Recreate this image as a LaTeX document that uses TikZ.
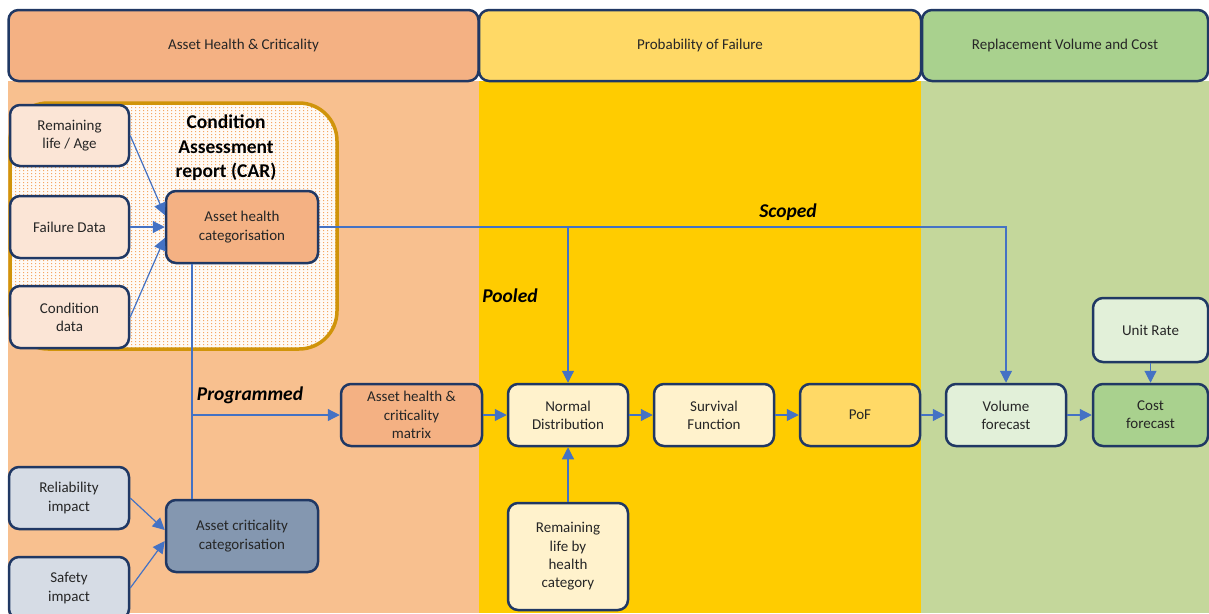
\documentclass[tikz,border=0pt]{standalone}
\usepackage{fontspec}
\setmainfont{Carlito}
\usetikzlibrary{arrows.meta}
\definecolor{bgA}{HTML}{F8C08F}
\definecolor{bgB}{HTML}{FFCC00}
\definecolor{bgC}{HTML}{C4D79B}
\definecolor{hA}{HTML}{F4B183}
\definecolor{hB}{HTML}{FFD966}
\definecolor{hC}{HTML}{A9D18E}
\definecolor{peachL}{HTML}{FBE5D6}
\definecolor{yelL}{HTML}{FFF2CC}
\definecolor{grnL}{HTML}{E2F0D9}
\definecolor{blueL}{HTML}{D6DCE5}
\definecolor{blueD}{HTML}{8497B0}
\definecolor{navy}{HTML}{203864}
\definecolor{lineblue}{HTML}{4472C4}
\definecolor{gold}{HTML}{D0940A}
\definecolor{dotc}{HTML}{F5A864}
\definecolor{carbg}{HTML}{FFFAF5}
\begin{document}
\begin{tikzpicture}[x=1pt,y=-1pt,
  box/.style={draw=navy, line width=2.5pt, rounded corners=10pt, align=center,
    inner sep=2pt, font=\fontsize{15}{18.3}\selectfont, text=black!85},
  hdr/.style={box, minimum height=71pt},
  conn/.style={draw=lineblue, line width=1.2pt, -{Triangle[length=12pt,width=12pt]}},
  plain/.style={draw=lineblue, line width=1.2pt},
  lbl/.style={font=\fontsize{19.5}{22}\selectfont\bfseries\itshape, text=black}]
\useasboundingbox (0,0) rectangle (1209,613);
\fill[white] (0,0) rectangle (1209,613);
% column backgrounds
\fill[bgA] (8,81) rectangle (479,613);
\fill[bgB] (479,81) rectangle (921,613);
\fill[bgC] (921,81) rectangle (1209,613);
% headers
\node[hdr, fill=hA, minimum width=470pt] (h1) at (243.5,45.5) {Asset Health \& Criticality};
\node[hdr, fill=hB, minimum width=442pt] (h2) at (700,45.5) {Probability of Failure};
\node[hdr, fill=hC, minimum width=286pt] (h3) at (1065,45.5) {Replacement Volume and Cost};
% CAR container with dotted fill
\fill[carbg, rounded corners=38pt] (10,103) rectangle (337,349);
\begin{scope}
  \clip[rounded corners=38pt] (10,103) rectangle (337,349);
  \fill[dotc] \foreach \i in {0,...,81} { \foreach \j in {0,...,82} {
      (11+4*\i,104+3*\j) rectangle ++(1,1) } };
\end{scope}
\draw[gold, line width=3.5pt, rounded corners=38pt] (10,103) rectangle (337,349);
\node[font=\fontsize{19.5}{24.5}\selectfont\bfseries, align=center, text=black] (car) at (226,148)
  {Condition\\Assessment\\report (CAR)};
% nodes
\node[box, fill=peachL, minimum width=119pt, minimum height=61pt] (rl) at (69.5,135.5) {Remaining\\life / Age};
\node[box, fill=peachL, minimum width=119pt, minimum height=62pt] (fd) at (69.5,227) {Failure Data};
\node[box, fill=peachL, minimum width=119pt, minimum height=62pt] (cd) at (69.5,317) {Condition\\data};
\node[box, fill=hA, minimum width=152pt, minimum height=72pt] (ahc) at (242,227) {Asset health\\categorisation};
\node[box, fill=hA, minimum width=141pt, minimum height=62pt] (mat) at (411.5,415) {Asset health \&\\criticality\\matrix};
\node[box, fill=yelL, minimum width=120pt, minimum height=62pt] (nd) at (568,415) {Normal\\Distribution};
\node[box, fill=yelL, minimum width=120pt, minimum height=62pt] (sf) at (714,415) {Survival\\Function};
\node[box, fill=hB, minimum width=120pt, minimum height=62pt] (pof) at (860,415) {PoF};
\node[box, fill=grnL, minimum width=120pt, minimum height=62pt] (vf) at (1006,415) {Volume\\forecast};
\node[box, fill=hC, minimum width=115pt, minimum height=62pt] (cf) at (1150.5,415) {Cost\\forecast};
\node[box, fill=grnL, minimum width=115pt, minimum height=64pt] (ur) at (1150.5,330) {Unit Rate};
\node[box, fill=yelL, minimum width=120pt, minimum height=107pt] (rlh) at (568,556.5) {Remaining\\life by\\health\\category};
\node[box, fill=blueL, minimum width=120pt, minimum height=62pt] (ri) at (69,498) {Reliability\\impact};
\node[box, fill=blueL, minimum width=120pt, minimum height=62pt] (si) at (69,588) {Safety\\impact};
\node[box, fill=blueD, minimum width=152pt, minimum height=72pt] (acc) at (242,536) {Asset criticality\\categorisation};
% connectors into asset health categorisation
\draw[conn] (rl.east) -- ([yshift=12pt]ahc.west);
\draw[conn] (fd.east) -- (ahc.west);
\draw[conn] (cd.east) -- ([yshift=-11pt]ahc.west);
% connectors into asset criticality categorisation
\draw[conn] (ri.east) -- ([yshift=6pt]acc.west);
\draw[conn] (si.east) -- ([yshift=-5pt]acc.west);
% scoped / pooled
\draw[conn] (ahc.east) -| (vf.north);
\coordinate (jp) at (nd.north |- ahc.east);
\draw[conn] (jp) -- (nd.north);
% programmed
\coordinate (pv) at ([xshift=-50pt]ahc.south);
\draw[plain] (pv) -- (pv |- acc.north);
\coordinate (pj) at (pv |- mat.west);
\draw[conn] (pj) -- (mat.west);
% main chain
\draw[conn] (mat) -- (nd);
\draw[conn] (nd) -- (sf);
\draw[conn] (sf) -- (pof);
\draw[conn] (pof) -- (vf);
\draw[conn] (vf) -- (cf);
\draw[conn] (ur) -- (cf);
\draw[conn] (rlh) -- (nd);
% labels
\node[lbl] (lsc) at (788,212) {Scoped};
\node[lbl] (lpo) at (510,296) {Pooled};
\node[lbl] (lpr) at (250,395) {Programmed};
\end{tikzpicture}
\end{document}
